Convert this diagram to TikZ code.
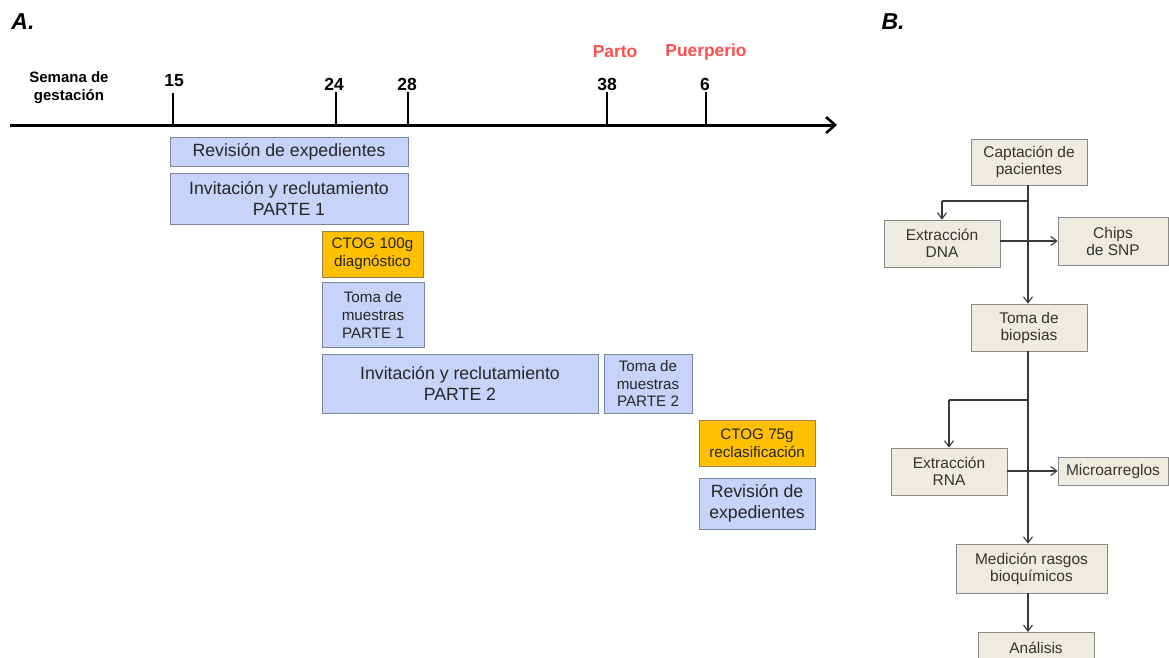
\documentclass[tikz,border=0pt]{standalone}
\usepackage{fontspec}
\setmainfont{Liberation Sans}
\usetikzlibrary{arrows.meta}
\definecolor{bluefill}{HTML}{C6D4FA}
\definecolor{blueline}{HTML}{7A8599}
\definecolor{orangefill}{HTML}{FFC000}
\definecolor{orangeline}{HTML}{9A8050}
\definecolor{beige}{HTML}{EEECE1}
\definecolor{beigeline}{HTML}{8A8A8A}
\definecolor{redlab}{HTML}{FF4F4F}
\definecolor{conn}{HTML}{3A3A3A}
\tikzset{
  tbox/.style={draw=blueline, fill=bluefill, line width=0.8pt, align=center, inner sep=0pt, text=black!85},
  obox/.style={draw=orangeline, fill=orangefill, line width=0.8pt, align=center, inner sep=0pt, text=black!85},
  fbox/.style={draw=beigeline, fill=beige, line width=0.8pt, align=center, inner sep=0pt, text=black!80, font=\fontsize{15.5}{17}\selectfont},
  big/.style={font=\fontsize{17.7}{21.5}\selectfont},
  small/.style={font=\fontsize{15.2}{18}\selectfont},
  tick/.style={line width=2.8pt, black},
  num/.style={font=\bfseries\fontsize{17.5}{20}\selectfont},
  phase/.style={font=\bfseries\fontsize{17.4}{20}\selectfont, text=redlab},
  flow/.style={draw=conn, line width=1.1pt, -{Straight Barb[length=6pt,width=9pt]}},
  flowline/.style={draw=conn, line width=1.1pt}
}
\begin{document}
\begin{tikzpicture}[x=1pt,y=-1pt]
\useasboundingbox (0,0) rectangle (1169,657);
% panel labels
\node[font=\bfseries\itshape\fontsize{23}{26}\selectfont] (labA) at (23,22) {A.};
\node[font=\bfseries\itshape\fontsize{23}{26}\selectfont] (labB) at (893,22) {B.};
% timeline
\coordinate (axL) at (10,125);
\coordinate (axR) at (837,125);
\draw[line width=3pt, -{Straight Barb[length=9pt,width=16pt,line width=2.6pt]}] (axL) -- (axR);
\foreach \n/\x/\t in {t15/173/93, t24/336/92, t28/408/92, t38/607/92, t6/706/92}{
  \coordinate (\n top) at (\x,\t);
  \coordinate (\n bot) at (\x,125);
  \draw[tick] (\n top) -- (\n bot);
}
\node[font=\bfseries\fontsize{15}{18}\selectfont, align=center] (sem) at (69,88) {Semana de\\gestación};
\node[num] (n15) at (174,81) {15};
\node[num] (n24) at (334,84) {24};
\node[num] (n28) at (407,84) {28};
\node[num] (n38) at (607,84) {38};
\node[num] (n6) at (705,84) {6};
\node[phase] (parto) at (615,52) {Parto};
\node[phase] (puer) at (706,52) {Puerperio};
% boxes A
\node[tbox, big, minimum width=238pt, minimum height=29pt] (rev1) at (289,151.5) {Revisión de expedientes};
\node[tbox, big, minimum width=238pt, minimum height=51pt] (inv1) at (289,198.5) {Invitación y reclutamiento\\PARTE 1};
\node[obox, small, minimum width=101pt, minimum height=46pt] (ctog1) at (372.5,254) {CTOG 100g\\diagnóstico};
\node[tbox, small, minimum width=102pt, minimum height=65pt] (toma1) at (373,314.5) {Toma de\\muestras\\PARTE 1};
\node[tbox, big, minimum width=276pt, minimum height=59pt] (inv2) at (460,383.5) {Invitación y reclutamiento\\PARTE 2};
\node[tbox, font=\fontsize{15.2}{17.5}\selectfont, minimum width=88pt, minimum height=59pt] (toma2) at (648,383.5) {Toma de\\muestras\\PARTE 2};
\node[obox, small, minimum width=116pt, minimum height=46pt] (ctog2) at (757,443) {CTOG 75g\\reclasificación};
\node[tbox, big, minimum width=116pt, minimum height=51pt] (rev2) at (757,503.5) {Revisión de\\expedientes};
% panel B
\node[fbox, minimum width=116pt, minimum height=46pt] (capt) at (1029,162) {Captación de\\pacientes};
\node[fbox, minimum width=116pt, minimum height=47pt] (dna) at (942,243.5) {Extracción\\DNA};
\node[fbox, minimum width=110pt, minimum height=48pt] (chips) at (1113,241) {Chips\\de SNP};
\node[fbox, minimum width=116pt, minimum height=47pt] (biop) at (1029,327.5) {Toma de\\biopsias};
\node[fbox, minimum width=116pt, minimum height=47pt] (rna) at (949,471.5) {Extracción\\RNA};
\node[fbox, minimum width=110pt, minimum height=28pt] (micro) at (1113,471) {Microarreglos};
\node[fbox, minimum width=151pt, minimum height=49pt] (med) at (1031.5,568.5) {Medición rasgos\\bioquímicos};
\node[fbox, minimum width=116pt, minimum height=30pt, anchor=north] (anal) at (1036,632) {Análisis};
% connectors
\coordinate (j1) at (1028,201);
\coordinate (j1l) at (942,201);
\coordinate (j2) at (1028,400);
\coordinate (j2l) at (949,400);
\draw[flow] (capt.south -| j1) -- (biop.north -| j1);
\draw[flowline] (j1) -- (j1l);
\draw[flow] (j1l) -- (dna.north);
\draw[flow] (dna.east |- chips.west) -- (chips.west);
\draw[flow] (biop.south -| j2) -- (med.north -| j2);
\draw[flowline] (j2) -- (j2l);
\draw[flow] (j2l) -- (rna.north);
\draw[flow] (rna.east |- micro.west) -- (micro.west);
\draw[flow] (med.south -| j2) -- (anal.north -| j2);
\end{tikzpicture}
\end{document}
